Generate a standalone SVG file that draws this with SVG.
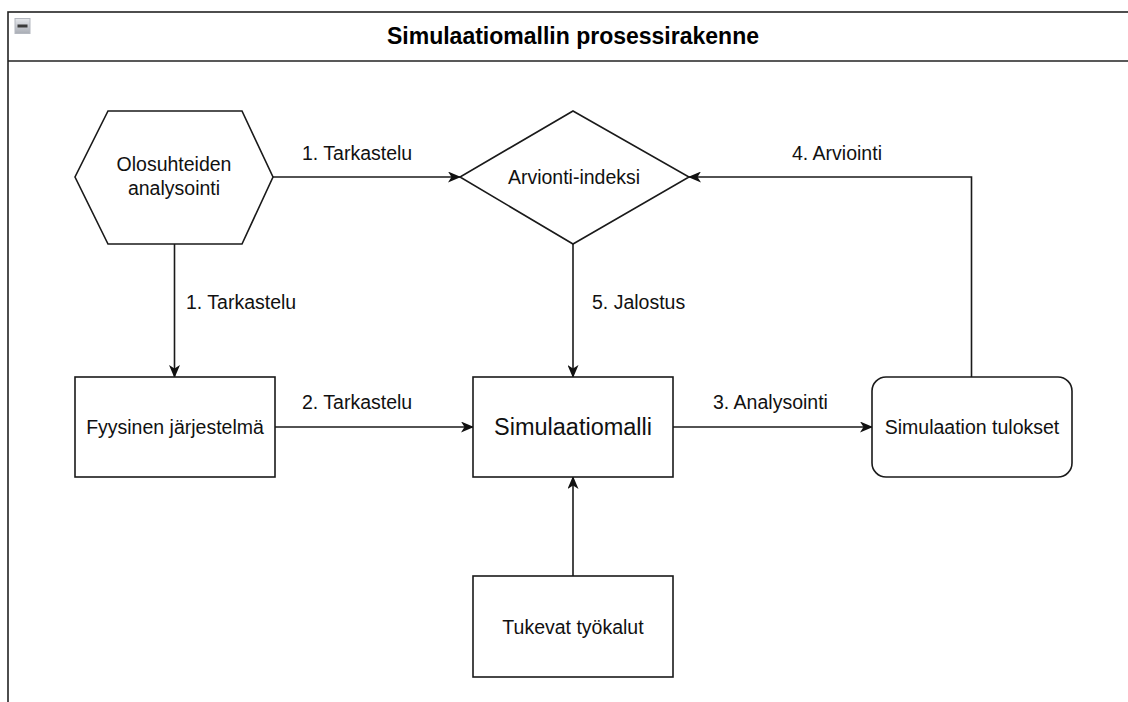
<svg xmlns="http://www.w3.org/2000/svg" width="1128" height="702" viewBox="0 0 1128 702">
  <style>
    .shape { fill: #ffffff; stroke: #1a1a1a; stroke-width: 1.6; }
    .edge { fill: none; stroke: #1a1a1a; stroke-width: 1.6; }
    .txt { font-family: "Liberation Sans", Arial, sans-serif; font-size: 19.5px; fill: #111111; text-anchor: middle; }
    .lbl { font-family: "Liberation Sans", Arial, sans-serif; font-size: 19.5px; fill: #111111; }
    .big { font-size: 23.5px; }
    .title { font-family: "Liberation Sans", Arial, sans-serif; font-size: 23px; font-weight: bold; fill: #000000; text-anchor: middle; }
  </style>
  <defs>
    <marker id="arrow" viewBox="0 0 13 11" refX="12" refY="5.5" markerWidth="13" markerHeight="11" markerUnits="userSpaceOnUse" orient="auto">
      <path d="M0,0 L13,5.5 L0,11 L3.5,5.5 z" fill="#111111"/>
    </marker>
    <linearGradient id="iconGrad" x1="0" y1="0" x2="0" y2="1">
      <stop offset="0" stop-color="#e6e8ec"/>
      <stop offset="1" stop-color="#a9adb5"/>
    </linearGradient>
  </defs>

  <rect width="1128" height="702" fill="#ffffff"/>

  <!-- container frame with header -->
  <g id="container">
    <rect x="8" y="12" width="1200" height="800" fill="#ffffff" stroke="#222222" stroke-width="1.6"/>
    <line x1="8" y1="61" x2="1128" y2="61" stroke="#222222" stroke-width="1.6"/>
    <rect x="15" y="18.5" width="15" height="15" fill="url(#iconGrad)" stroke="#b4b8c0" stroke-width="1"/>
    <rect x="17.5" y="24.5" width="10" height="3" fill="#3a3a3a"/>
    <text class="title" x="573" y="44">Simulaatiomallin prosessirakenne</text>
  </g>

  <!-- connectors -->
  <g id="connectors">
    <path class="edge" d="M273,177 L460,177" marker-end="url(#arrow)"/>
    <path class="edge" d="M174.5,244 L174.5,377" marker-end="url(#arrow)"/>
    <path class="edge" d="M275,427 L473,427" marker-end="url(#arrow)"/>
    <path class="edge" d="M673,427 L872,427" marker-end="url(#arrow)"/>
    <path class="edge" d="M971.5,377 L971.5,177 L689,177" marker-end="url(#arrow)"/>
    <path class="edge" d="M573,244 L573,377" marker-end="url(#arrow)"/>
    <path class="edge" d="M573,576 L573,477" marker-end="url(#arrow)"/>

    <text class="lbl" x="302" y="160">1. Tarkastelu</text>
    <text class="lbl" x="186" y="309">1. Tarkastelu</text>
    <text class="lbl" x="302" y="409">2. Tarkastelu</text>
    <text class="lbl" x="713" y="409">3. Analysointi</text>
    <text class="lbl" x="792" y="160">4. Arviointi</text>
    <text class="lbl" x="592" y="309">5. Jalostus</text>
  </g>

  <g id="olosuhteiden">
    <polygon class="shape" points="108,111 242,111 273,177 242,244 108,244 75,177"/>
    <text class="txt" x="174" y="171">Olosuhteiden</text>
    <text class="txt" x="174" y="195">analysointi</text>
  </g>

  <g id="arviointi-indeksi">
    <polygon class="shape" points="573,111 689,177 573,244 460,177"/>
    <text class="txt" x="574" y="184">Arvionti-indeksi</text>
  </g>

  <g id="fyysinen">
    <rect class="shape" x="75" y="377" width="200" height="100"/>
    <text class="txt" x="175" y="434">Fyysinen järjestelmä</text>
  </g>

  <g id="simulaatiomalli">
    <rect class="shape" x="473" y="377" width="200" height="100"/>
    <text class="txt big" x="573" y="435">Simulaatiomalli</text>
  </g>

  <g id="tulokset">
    <rect class="shape" x="872" y="377" width="200" height="100" rx="14" ry="14"/>
    <text class="txt" x="972" y="434">Simulaation tulokset</text>
  </g>

  <g id="tukevat">
    <rect class="shape" x="473" y="576" width="200" height="101"/>
    <text class="txt" x="573" y="634">Tukevat työkalut</text>
  </g>
</svg>
